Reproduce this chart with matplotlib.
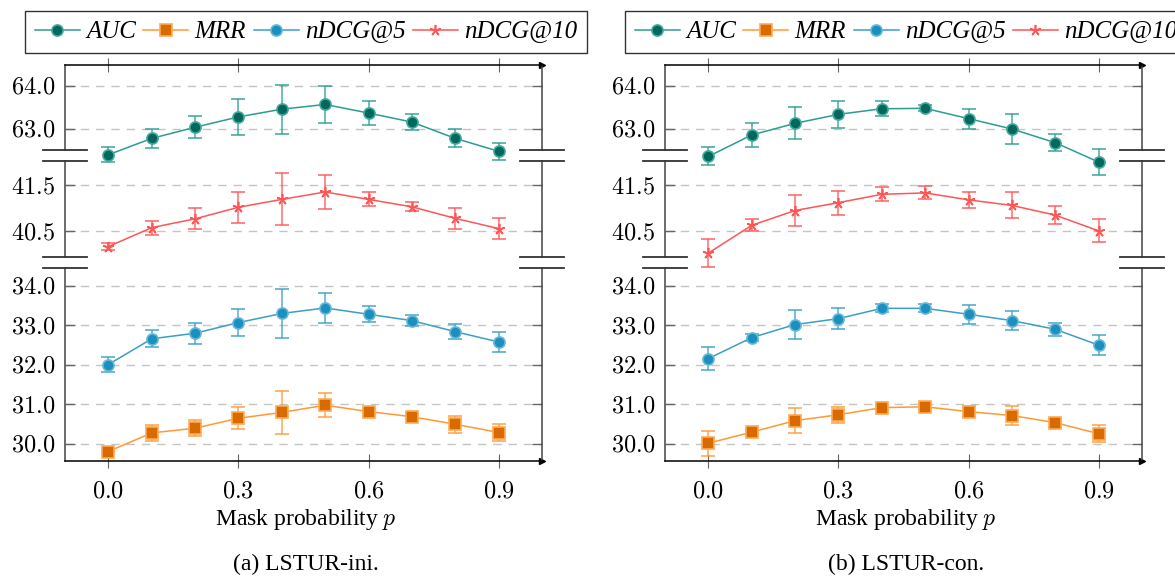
import numpy as np
import matplotlib.pyplot as plt
from matplotlib.lines import Line2D

plt.rcParams['mathtext.fontset'] = 'cm'
plt.rcParams['font.family'] = ['Liberation Serif', 'DejaVu Serif']

# mask probability
p = [0.0, 0.1, 0.2, 0.3, 0.4, 0.5, 0.6, 0.7, 0.8, 0.9]

# (a) LSTUR-ini
ini_auc = [62.39, 62.77, 63.03, 63.27, 63.45, 63.56, 63.36, 63.15, 62.77, 62.47]
ini_auc_err = [0.17, 0.22, 0.25, 0.41, 0.57, 0.42, 0.27, 0.19, 0.21, 0.20]
ini_mrr = [29.81, 30.28, 30.40, 30.65, 30.80, 30.98, 30.82, 30.69, 30.50, 30.29]
ini_mrr_err = [0.05, 0.20, 0.21, 0.28, 0.55, 0.31, 0.06, 0.06, 0.21, 0.21]
ini_ndcg5 = [32.01, 32.66, 32.80, 33.07, 33.30, 33.44, 33.28, 33.12, 32.84, 32.58]
ini_ndcg5_err = [0.20, 0.21, 0.27, 0.34, 0.62, 0.39, 0.20, 0.14, 0.19, 0.25]
ini_ndcg10 = [40.17, 40.58, 40.77, 41.02, 41.19, 41.35, 41.19, 41.03, 40.78, 40.56]
ini_ndcg10_err = [0.08, 0.15, 0.23, 0.33, 0.56, 0.37, 0.15, 0.10, 0.23, 0.22]

# (b) LSTUR-con
con_auc = [62.35, 62.85, 63.12, 63.33, 63.46, 63.47, 63.23, 62.99, 62.67, 62.22]
con_auc_err = [0.21, 0.27, 0.37, 0.32, 0.17, 0.07, 0.23, 0.34, 0.20, 0.30]
con_mrr = [30.02, 30.30, 30.59, 30.74, 30.92, 30.94, 30.82, 30.72, 30.54, 30.26]
con_mrr_err = [0.32, 0.06, 0.31, 0.20, 0.06, 0.06, 0.13, 0.23, 0.10, 0.21]
con_ndcg5 = [32.16, 32.69, 33.02, 33.17, 33.43, 33.43, 33.28, 33.12, 32.90, 32.50]
con_ndcg5_err = [0.30, 0.08, 0.37, 0.27, 0.10, 0.10, 0.24, 0.25, 0.16, 0.26]
con_ndcg10 = [40.03, 40.63, 40.95, 41.12, 41.30, 41.33, 41.18, 41.06, 40.85, 40.51]
con_ndcg10_err = [0.31, 0.13, 0.33, 0.26, 0.15, 0.14, 0.17, 0.28, 0.19, 0.25]

names = ['AUC', 'MRR', 'nDCG@5', 'nDCG@10']
# line colour, marker face, marker edge, marker, size
styles = {
    'AUC': ('#2a9d90', '#00695c', '#45a89d', 'o', 8),
    'MRR': ('#ff9933', '#d96a00', '#ffaa55', 's', 8),
    'nDCG@5': ('#3a9fc4', '#1b8fbf', '#66b8d6', 'o', 8),
    'nDCG@10': ('#ff5555', '#ff5555', '#ff5555', (5, 2, 0), 8),
}

W, H = 1175, 578
# pixel rows of the three stacked segments
seg_px = [(64.5, 150), (161, 257), (268, 461)]
seg_lim = [(62.50, 64.49), (39.945, 42.02), (29.57, 34.45)]
seg_ticks = [[63.0, 64.0], [40.5, 41.5], [30.0, 31.0, 32.0, 33.0, 34.0]]
spine_col = '#444444'

fig = plt.figure(figsize=(W / 100, H / 100), dpi=100)


def draw_panel(xl, xr, series, caption):
    axes = []
    for i, ((yt, yb), lim, ticks) in enumerate(zip(seg_px, seg_lim, seg_ticks)):
        ax = fig.add_axes([xl / W, 1 - yb / H, (xr - xl) / W, (yb - yt) / H])
        ax.set_xlim(-0.1, 1.0)
        ax.set_ylim(*lim)
        ax.set_facecolor('none')
        ax.set_yticks(ticks)
        ax.set_yticklabels(['$%.1f$' % t for t in ticks], fontsize=17.5)
        ax.tick_params(axis='y', direction='in', length=7, width=1, color='#666666',
                       left=True, right=True, pad=7)
        ax.yaxis.grid(True, linestyle=(0, (6, 5)), color='#c4c4c4', lw=1)
        ax.set_axisbelow(True)
        for s in ax.spines.values():
            s.set_color(spine_col)
            s.set_linewidth(1.1)
        ax.set_xticks([0.0, 0.3, 0.6, 0.9])
        if i == 0:
            ax.spines['bottom'].set_visible(False)
            ax.spines['top'].set_color('black')
            ax.tick_params(axis='x', direction='inout', length=10, color='#666666',
                           top=True, bottom=False, labelbottom=False)
            ax.plot(1, 1, '>', color='black', ms=5, transform=ax.transAxes, clip_on=False)
        elif i == 1:
            ax.spines['bottom'].set_visible(False)
            ax.spines['top'].set_visible(False)
            ax.tick_params(axis='x', bottom=False, labelbottom=False)
        else:
            ax.spines['top'].set_visible(False)
            ax.spines['bottom'].set_color('black')
            ax.tick_params(axis='x', direction='inout', length=10, color='#666666',
                           labelsize=17.5, pad=10)
            ax.set_xticklabels(['$%.1f$' % t for t in [0.0, 0.3, 0.6, 0.9]])
            ax.plot(1, 0, '>', color='black', ms=5, transform=ax.transAxes, clip_on=False)
        axes.append(ax)

    seg_of = {'AUC': 0, 'nDCG@10': 1, 'nDCG@5': 2, 'MRR': 2}
    handles = []
    for name in names:
        vals, err = series[name]
        lc, fc, ec, mk, ms = styles[name]
        ax = axes[seg_of[name]]
        cont = ax.errorbar(p, vals, yerr=err, color=lc, ecolor=lc, lw=1.1, elinewidth=1.1,
                           capsize=5, capthick=1.1, marker=mk, ms=ms, mfc=fc, mec=ec,
                           mew=1.2, clip_on=False, zorder=3)
        for art in cont.lines[1] + cont.lines[2]:
            art.set_clip_on(False)
            art.set_alpha(0.85)
        handles.append(Line2D([], [], color=lc, lw=1.1, marker=mk, ms=ms, mfc=fc, mec=ec,
                              mew=1.2))

    # break marks
    for x0 in (xl, xr):
        for y in (150, 161, 257, 268):
            fig.add_artist(Line2D([(x0 - 22) / W, (x0 + 22) / W], [1 - y / H, 1 - y / H],
                                  color='#333333', lw=1.3))

    cx = (xl + xr) / 2 + 2.5
    fig.legend(handles, names, loc='center',
               bbox_to_anchor=(cx / W, 1 - 32 / H), ncol=4, frameon=True,
               fancybox=False, edgecolor='black', handlelength=1.8,
               handletextpad=0.25, columnspacing=0.3, borderpad=0.4,
               prop={'family': 'Liberation Serif', 'style': 'italic', 'size': 18})
    fig.text(cx / W, 1 - 519 / H, 'Mask probability $p$', ha='center', va='center',
             fontsize=17)
    fig.text(cx / W, 1 - 564 / H, caption, ha='center', va='center', fontsize=17)


draw_panel(65, 542, {'AUC': (ini_auc, ini_auc_err), 'MRR': (ini_mrr, ini_mrr_err),
                     'nDCG@5': (ini_ndcg5, ini_ndcg5_err),
                     'nDCG@10': (ini_ndcg10, ini_ndcg10_err)}, '(a) LSTUR-ini.')
draw_panel(665, 1142, {'AUC': (con_auc, con_auc_err), 'MRR': (con_mrr, con_mrr_err),
                       'nDCG@5': (con_ndcg5, con_ndcg5_err),
                       'nDCG@10': (con_ndcg10, con_ndcg10_err)}, '(b) LSTUR-con.')

fig.savefig('out.png', dpi=100)
